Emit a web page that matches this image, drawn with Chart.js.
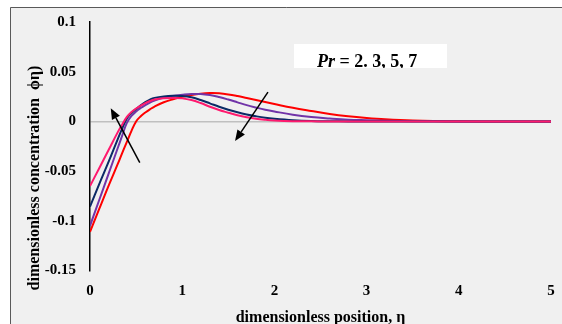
<!DOCTYPE html>
<html>
<head>
<meta charset="utf-8">
<script src="https://cdn.jsdelivr.net/npm/chart.js@4/dist/chart.umd.min.js"></script>
<style>
  html, body { margin: 0; padding: 0; background: #ffffff; }
  #wrap { width: 562px; height: 324px; position: relative; }
</style>
</head>
<body>
<div id="wrap"><canvas id="chart" width="562" height="324"></canvas></div>
<script>
// Similarity variable η (shared by all four profiles)
const eta = [0, 0.1, 0.2, 0.3, 0.35, 0.4, 0.45, 0.5, 0.55, 0.6, 0.65, 0.7, 0.8, 0.9, 1.0, 1.1, 1.2, 1.3, 1.4, 1.5, 1.6, 1.7, 1.8, 1.9, 2.0, 2.2, 2.4, 2.6, 2.8, 3.0, 3.2, 3.5, 4.0, 4.5, 5.0];

// Concentration profiles ϕ(η)
const phiRed    = [-0.111, -0.088, -0.065, -0.043, -0.0315, -0.0205, -0.0095, 0.0000, 0.0052, 0.0090, 0.0122, 0.0150, 0.0193, 0.0223, 0.0248, 0.0266, 0.0279, 0.0285, 0.0283, 0.0272, 0.0255, 0.0235, 0.0215, 0.0195, 0.0175, 0.0137, 0.0105, 0.0075, 0.0052, 0.0035, 0.0022, 0.0010, 0.0002, 0, 0];
const phiPurple = [-0.105, -0.079, -0.053, -0.027, -0.014, -0.0015, 0.0055, 0.0100, 0.0135, 0.0165, 0.0190, 0.0210, 0.0240, 0.0257, 0.0268, 0.0276, 0.0276, 0.0265, 0.0245, 0.0220, 0.0192, 0.0164, 0.0140, 0.0118, 0.0100, 0.0068, 0.0045, 0.0030, 0.0018, 0.0012, 0.0007, 0.0003, 0, 0, 0];
const phiNavy   = [-0.0857, -0.063, -0.041, -0.018, -0.007, 0.0030, 0.0085, 0.0125, 0.0162, 0.0195, 0.0220, 0.0237, 0.0252, 0.0258, 0.0256, 0.0243, 0.0215, 0.0182, 0.0148, 0.0118, 0.0092, 0.0070, 0.0052, 0.0037, 0.0027, 0.0013, 0.0005, 0.0002, 0, 0, 0, 0, 0, 0, 0];
const phiPink   = [-0.065, -0.047, -0.029, -0.011, -0.003, 0.0045, 0.0095, 0.0130, 0.0160, 0.0185, 0.0205, 0.0220, 0.0233, 0.0236, 0.0232, 0.0215, 0.0185, 0.0148, 0.0115, 0.0088, 0.0062, 0.0042, 0.0027, 0.0017, 0.0010, 0.0003, 0.0001, 0, 0, 0, 0, 0, 0, 0, 0];

// Axis ticks
const xTickValues = [0, 1, 2, 3, 4, 5];
const xTickLabels = ['0', '1', '2', '3', '4', '5'];
const yTickValues = [-0.15, -0.1, -0.05, 0, 0.05, 0.1];
const yTickLabels = ['-0.15', '-0.1', '-0.05', '0', '0.05', '0.1'];

// Text
const xTitle = 'dimensionless position, η';
const yTitle = 'dimensionless concentration  ϕη)';
const noteItalic = 'Pr';
const noteRest = ' = 2. 3, 5, 7';

// Direction arrows in data coordinates: [tailX, tailY, headX, headY]
const arrowsData = [
  [0.54, -0.0414, 0.225, 0.0133],
  [1.93, 0.0294, 1.573, -0.0197]
];

const SERIF = "'Liberation Serif', 'Times New Roman', serif";

function toPoints(ys) { return eta.map((x, i) => ({ x: x, y: ys[i] })); }

function lineSet(ys, color) {
  return {
    data: toPoints(ys),
    borderColor: color,
    backgroundColor: color,
    borderWidth: 2,
    pointRadius: 0,
    fill: false,
    tension: 0.4
  };
}

// Panel background and frame
const framePlugin = {
  id: 'frame',
  beforeDraw(chart) {
    const c = chart.ctx;
    c.save();
    c.fillStyle = '#ffffff';
    c.fillRect(0, 0, chart.width, chart.height);
    c.fillStyle = '#f0f0f0';
    c.fillRect(10, 7, chart.width - 10, chart.height - 7);
    c.strokeStyle = '#595959';
    c.lineWidth = 1;
    c.beginPath();
    c.moveTo(10.5, chart.height);
    c.lineTo(10.5, 7.5);
    c.lineTo(chart.width, 7.5);
    c.stroke();
    c.restore();
  }
};

// Rotated y title, arrows and the Pr note
const extrasPlugin = {
  id: 'extras',
  afterDatasetsDraw(chart) {
    const c = chart.ctx;
    const xs = chart.scales.x, ys = chart.scales.y;

    // arrows
    c.save();
    c.strokeStyle = '#000';
    c.fillStyle = '#000';
    c.lineWidth = 1.5;
    arrowsData.forEach(a => {
      const x0 = xs.getPixelForValue(a[0]), y0 = ys.getPixelForValue(a[1]);
      const x1 = xs.getPixelForValue(a[2]), y1 = ys.getPixelForValue(a[3]);
      const ang = Math.atan2(y1 - y0, x1 - x0);
      const len = 11, half = 4.5;
      const bx = x1 - len * Math.cos(ang), by = y1 - len * Math.sin(ang);
      c.beginPath();
      c.moveTo(x0, y0);
      c.lineTo(bx, by);
      c.stroke();
      c.beginPath();
      c.moveTo(x1, y1);
      c.lineTo(bx + half * Math.sin(ang), by - half * Math.cos(ang));
      c.lineTo(bx - half * Math.sin(ang), by + half * Math.cos(ang));
      c.closePath();
      c.fill();
    });
    c.restore();

    // Pr note
    c.save();
    c.fillStyle = '#ffffff';
    c.fillRect(294, 44, 153, 24);
    c.beginPath();
    c.rect(294, 44, 153, 24);
    c.clip();
    c.fillStyle = '#000';
    c.textBaseline = 'alphabetic';
    c.textAlign = 'left';
    c.font = 'italic bold 18px ' + SERIF;
    let tx = 317;
    c.fillText(noteItalic, tx, 66.5);
    tx += c.measureText(noteItalic).width;
    c.font = 'bold 18px ' + SERIF;
    c.fillText(noteRest, tx, 66.5);
    c.restore();

    // y axis title
    c.save();
    c.translate(35, 178);
    c.rotate(-Math.PI / 2);
    c.fillStyle = '#000';
    c.font = 'bold 16px ' + SERIF;
    c.textAlign = 'center';
    c.textBaseline = 'middle';
    c.fillText(yTitle, 0, 0);
    c.restore();
  }
};

new Chart(document.getElementById('chart'), {
  type: 'line',
  data: {
    datasets: [
      lineSet(phiPink, '#ff1a6e'),
      lineSet(phiNavy, '#0b2a66'),
      lineSet(phiPurple, '#7134a8'),
      lineSet(phiRed, '#ff0000')
    ]
  },
  options: {
    responsive: false,
    animation: false,
    events: [],
    layout: { padding: { left: 0, right: 11, top: 22, bottom: 0 } },
    plugins: { legend: { display: false }, tooltip: { enabled: false } },
    scales: {
      x: {
        type: 'linear',
        min: 0,
        max: 5,
        afterFit(scale) { scale.height = 53.4; },
        afterBuildTicks(scale) { scale.ticks = xTickValues.map(v => ({ value: v })); },
        grid: { display: false, drawTicks: true, tickLength: 12 },
        border: { display: false },
        ticks: {
          padding: 0,
          color: '#000',
          font: { family: SERIF, size: 15, weight: 'bold' },
          maxRotation: 0,
          callback(v, i) { return xTickLabels[i]; }
        },
        title: {
          display: true,
          text: xTitle,
          color: '#000',
          font: { family: SERIF, size: 16, weight: 'bold' },
          padding: { top: 0, bottom: -3 }
        }
      },
      y: {
        type: 'linear',
        min: -0.15,
        max: 0.1,
        afterFit(scale) { scale.width = 90; },
        afterBuildTicks(scale) { scale.ticks = yTickValues.map(v => ({ value: v })); },
        grid: {
          drawTicks: true,
          tickLength: 14,
          tickColor: 'rgba(0,0,0,0)',
          color(ctx) { return ctx.tick && ctx.tick.value === 0 ? '#c0c0c0' : 'rgba(0,0,0,0)'; },
          lineWidth: 1.5
        },
        border: { display: true, color: '#000', width: 1.5 },
        ticks: {
          padding: 0,
          color: '#000',
          font: { family: SERIF, size: 15, weight: 'bold' },
          callback(v, i) { return yTickLabels[i]; }
        }
      }
    }
  },
  plugins: [framePlugin, extrasPlugin]
});
</script>
</body>
</html>
